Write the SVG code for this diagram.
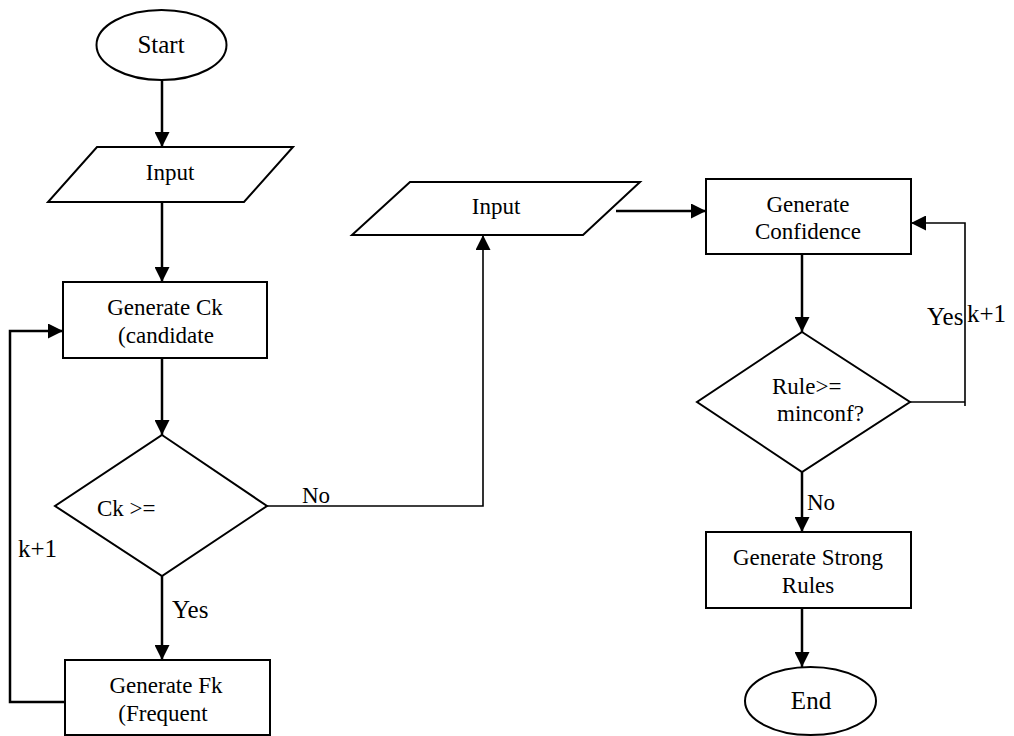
<svg xmlns="http://www.w3.org/2000/svg" width="1014" height="736" viewBox="0 0 1014 736">
<style>
.shape{fill:#fff;stroke:#000;stroke-width:2}
.t{font-family:"Liberation Serif","Times New Roman",serif;font-size:23px;fill:#000}
.c{text-anchor:middle}
.big{font-size:25px}
.ln{fill:none;stroke:#000;stroke-width:2.5}
.thin{fill:none;stroke:#000;stroke-width:1.6}
</style>
<defs>
<marker id="arr" markerUnits="userSpaceOnUse" markerWidth="15" markerHeight="15" refX="15" refY="7.5" orient="auto">
<path d="M0,0 L15,7.5 L0,15 z" fill="#000"/>
</marker>
</defs>
<rect width="1014" height="736" fill="#fff"/>
<g id="connectors">
<line class="ln" x1="162" y1="80" x2="162" y2="147" marker-end="url(#arr)"/>
<line class="ln" x1="162" y1="202" x2="162" y2="282" marker-end="url(#arr)"/>
<line class="ln" x1="162" y1="358" x2="162" y2="435" marker-end="url(#arr)"/>
<line class="ln" x1="162" y1="576" x2="162" y2="660" marker-end="url(#arr)"/>
<polyline class="ln" points="65,702 10,702 10,331 63,331" marker-end="url(#arr)"/>
<polyline class="thin" points="267,506 483,506 483,235" marker-end="url(#arr)"/>
<line class="ln" x1="616" y1="211" x2="706" y2="211" marker-end="url(#arr)"/>
<line class="ln" x1="802" y1="254" x2="802" y2="332" marker-end="url(#arr)"/>
<polyline class="thin" points="910,402 965,402"/>
<polyline class="thin" points="965,406 965,223 911,223" marker-end="url(#arr)"/>
<line class="ln" x1="802" y1="472" x2="802" y2="532" marker-end="url(#arr)"/>
<line class="ln" x1="802" y1="608" x2="802" y2="667" marker-end="url(#arr)"/>
<text class="t" x="302" y="503">No</text>
<text class="t big" x="18" y="557">k+1</text>
<text class="t big" x="172" y="618">Yes</text>
<text class="t big" x="927" y="325">Yes</text>
<text class="t big" x="967" y="322">k+1</text>
<text class="t" x="807" y="510">No</text>
</g>
<g id="start">
<ellipse class="shape" cx="161.5" cy="45" rx="65" ry="35"/>
<text class="t big c" x="161" y="53">Start</text>
</g>
<g id="input1">
<polygon class="shape" points="97,147 293,147 244,202 48,202"/>
<text class="t c" x="170" y="180">Input</text>
</g>
<g id="gen-ck">
<rect class="shape" x="63" y="282" width="204" height="76"/>
<text class="t c" x="165" y="315">Generate Ck</text>
<text class="t c" x="166" y="343">(candidate</text>
</g>
<g id="dec-ck">
<polygon class="shape" points="162,435 267,506 162,576 55,506"/>
<text class="t" x="97" y="516">Ck &gt;=</text>
</g>
<g id="gen-fk">
<rect class="shape" x="65" y="660" width="205" height="75"/>
<text class="t c" x="166" y="693">Generate Fk</text>
<text class="t c" x="163" y="721">(Frequent</text>
</g>
<g id="input2">
<polygon class="shape" points="410,182 640,182 583,235 352,235"/>
<text class="t c" x="496" y="214">Input</text>
</g>
<g id="gen-conf">
<rect class="shape" x="706" y="179" width="205" height="75"/>
<text class="t c" x="808" y="212">Generate</text>
<text class="t c" x="808" y="239">Confidence</text>
</g>
<g id="dec-rule">
<polygon class="shape" points="802,332 910,402 802,472 697,402"/>
<text class="t" x="772" y="394">Rule&gt;=</text>
<text class="t" x="777" y="421">minconf?</text>
</g>
<g id="gen-strong">
<rect class="shape" x="706" y="532" width="205" height="76"/>
<text class="t c" x="808" y="565">Generate Strong</text>
<text class="t c" x="808" y="593">Rules</text>
</g>
<g id="end">
<ellipse class="shape" cx="810.5" cy="701" rx="65.5" ry="34"/>
<text class="t big c" x="811" y="709">End</text>
</g>
</svg>
